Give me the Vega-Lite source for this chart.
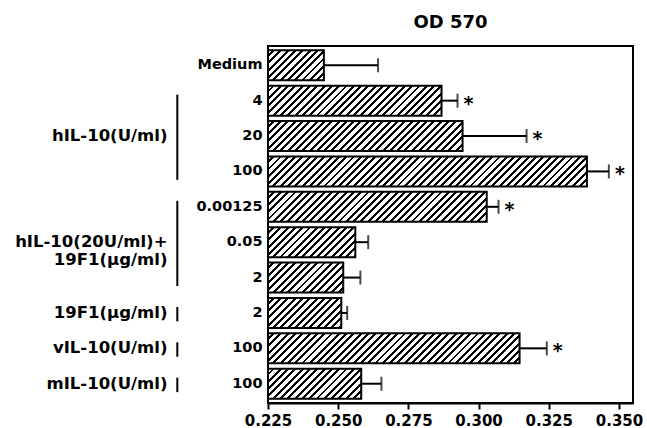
{
  "$schema": "https://vega.github.io/schema/vega-lite/v6.json",
  "width": 365,
  "height": 357,
  "autosize": {"type": "none"},
  "padding": {"left": 268, "top": 46, "right": 14, "bottom": 25},
  "background": "white",
  "config": {"view": {"stroke": "black", "strokeWidth": 2}, "font": "DejaVu Sans"},
  "title": {"text": "OD 570", "fontSize": 18, "fontWeight": "bold", "font": "DejaVu Sans", "color": "black", "offset": 14, "anchor": "middle"},
  "params": [
    {"name": "hatch", "value": [
      {"offset":0,"color":"#fff"},{"offset":0.012,"color":"#fff"},{"offset":0.012,"color":"#000"},{"offset":0.02,"color":"#000"},
      {"offset":0.02,"color":"#fff"},{"offset":0.032,"color":"#fff"},{"offset":0.032,"color":"#000"},{"offset":0.04,"color":"#000"},
      {"offset":0.04,"color":"#fff"},{"offset":0.052,"color":"#fff"},{"offset":0.052,"color":"#000"},{"offset":0.06,"color":"#000"},
      {"offset":0.06,"color":"#fff"},{"offset":0.072,"color":"#fff"},{"offset":0.072,"color":"#000"},{"offset":0.08,"color":"#000"},
      {"offset":0.08,"color":"#fff"},{"offset":0.092,"color":"#fff"},{"offset":0.092,"color":"#000"},{"offset":0.1,"color":"#000"},
      {"offset":0.1,"color":"#fff"},{"offset":0.112,"color":"#fff"},{"offset":0.112,"color":"#000"},{"offset":0.12,"color":"#000"},
      {"offset":0.12,"color":"#fff"},{"offset":0.132,"color":"#fff"},{"offset":0.132,"color":"#000"},{"offset":0.14,"color":"#000"},
      {"offset":0.14,"color":"#fff"},{"offset":0.152,"color":"#fff"},{"offset":0.152,"color":"#000"},{"offset":0.16,"color":"#000"},
      {"offset":0.16,"color":"#fff"},{"offset":0.172,"color":"#fff"},{"offset":0.172,"color":"#000"},{"offset":0.18,"color":"#000"},
      {"offset":0.18,"color":"#fff"},{"offset":0.192,"color":"#fff"},{"offset":0.192,"color":"#000"},{"offset":0.2,"color":"#000"},
      {"offset":0.2,"color":"#fff"},{"offset":0.212,"color":"#fff"},{"offset":0.212,"color":"#000"},{"offset":0.22,"color":"#000"},
      {"offset":0.22,"color":"#fff"},{"offset":0.232,"color":"#fff"},{"offset":0.232,"color":"#000"},{"offset":0.24,"color":"#000"},
      {"offset":0.24,"color":"#fff"},{"offset":0.252,"color":"#fff"},{"offset":0.252,"color":"#000"},{"offset":0.26,"color":"#000"},
      {"offset":0.26,"color":"#fff"},{"offset":0.272,"color":"#fff"},{"offset":0.272,"color":"#000"},{"offset":0.28,"color":"#000"},
      {"offset":0.28,"color":"#fff"},{"offset":0.292,"color":"#fff"},{"offset":0.292,"color":"#000"},{"offset":0.3,"color":"#000"},
      {"offset":0.3,"color":"#fff"},{"offset":0.312,"color":"#fff"},{"offset":0.312,"color":"#000"},{"offset":0.32,"color":"#000"},
      {"offset":0.32,"color":"#fff"},{"offset":0.332,"color":"#fff"},{"offset":0.332,"color":"#000"},{"offset":0.34,"color":"#000"},
      {"offset":0.34,"color":"#fff"},{"offset":0.352,"color":"#fff"},{"offset":0.352,"color":"#000"},{"offset":0.36,"color":"#000"},
      {"offset":0.36,"color":"#fff"},{"offset":0.372,"color":"#fff"},{"offset":0.372,"color":"#000"},{"offset":0.38,"color":"#000"},
      {"offset":0.38,"color":"#fff"},{"offset":0.392,"color":"#fff"},{"offset":0.392,"color":"#000"},{"offset":0.4,"color":"#000"},
      {"offset":0.4,"color":"#fff"},{"offset":0.412,"color":"#fff"},{"offset":0.412,"color":"#000"},{"offset":0.42,"color":"#000"},
      {"offset":0.42,"color":"#fff"},{"offset":0.432,"color":"#fff"},{"offset":0.432,"color":"#000"},{"offset":0.44,"color":"#000"},
      {"offset":0.44,"color":"#fff"},{"offset":0.452,"color":"#fff"},{"offset":0.452,"color":"#000"},{"offset":0.46,"color":"#000"},
      {"offset":0.46,"color":"#fff"},{"offset":0.472,"color":"#fff"},{"offset":0.472,"color":"#000"},{"offset":0.48,"color":"#000"},
      {"offset":0.48,"color":"#fff"},{"offset":0.492,"color":"#fff"},{"offset":0.492,"color":"#000"},{"offset":0.5,"color":"#000"},
      {"offset":0.5,"color":"#fff"},{"offset":0.512,"color":"#fff"},{"offset":0.512,"color":"#000"},{"offset":0.52,"color":"#000"},
      {"offset":0.52,"color":"#fff"},{"offset":0.532,"color":"#fff"},{"offset":0.532,"color":"#000"},{"offset":0.54,"color":"#000"},
      {"offset":0.54,"color":"#fff"},{"offset":0.552,"color":"#fff"},{"offset":0.552,"color":"#000"},{"offset":0.56,"color":"#000"},
      {"offset":0.56,"color":"#fff"},{"offset":0.572,"color":"#fff"},{"offset":0.572,"color":"#000"},{"offset":0.58,"color":"#000"},
      {"offset":0.58,"color":"#fff"},{"offset":0.592,"color":"#fff"},{"offset":0.592,"color":"#000"},{"offset":0.6,"color":"#000"},
      {"offset":0.6,"color":"#fff"},{"offset":0.612,"color":"#fff"},{"offset":0.612,"color":"#000"},{"offset":0.62,"color":"#000"},
      {"offset":0.62,"color":"#fff"},{"offset":0.632,"color":"#fff"},{"offset":0.632,"color":"#000"},{"offset":0.64,"color":"#000"},
      {"offset":0.64,"color":"#fff"},{"offset":0.652,"color":"#fff"},{"offset":0.652,"color":"#000"},{"offset":0.66,"color":"#000"},
      {"offset":0.66,"color":"#fff"},{"offset":0.672,"color":"#fff"},{"offset":0.672,"color":"#000"},{"offset":0.68,"color":"#000"},
      {"offset":0.68,"color":"#fff"},{"offset":0.692,"color":"#fff"},{"offset":0.692,"color":"#000"},{"offset":0.7,"color":"#000"},
      {"offset":0.7,"color":"#fff"},{"offset":0.712,"color":"#fff"},{"offset":0.712,"color":"#000"},{"offset":0.72,"color":"#000"},
      {"offset":0.72,"color":"#fff"},{"offset":0.732,"color":"#fff"},{"offset":0.732,"color":"#000"},{"offset":0.74,"color":"#000"},
      {"offset":0.74,"color":"#fff"},{"offset":0.752,"color":"#fff"},{"offset":0.752,"color":"#000"},{"offset":0.76,"color":"#000"},
      {"offset":0.76,"color":"#fff"},{"offset":0.772,"color":"#fff"},{"offset":0.772,"color":"#000"},{"offset":0.78,"color":"#000"},
      {"offset":0.78,"color":"#fff"},{"offset":0.792,"color":"#fff"},{"offset":0.792,"color":"#000"},{"offset":0.8,"color":"#000"},
      {"offset":0.8,"color":"#fff"},{"offset":0.812,"color":"#fff"},{"offset":0.812,"color":"#000"},{"offset":0.82,"color":"#000"},
      {"offset":0.82,"color":"#fff"},{"offset":0.832,"color":"#fff"},{"offset":0.832,"color":"#000"},{"offset":0.84,"color":"#000"},
      {"offset":0.84,"color":"#fff"},{"offset":0.852,"color":"#fff"},{"offset":0.852,"color":"#000"},{"offset":0.86,"color":"#000"},
      {"offset":0.86,"color":"#fff"},{"offset":0.872,"color":"#fff"},{"offset":0.872,"color":"#000"},{"offset":0.88,"color":"#000"},
      {"offset":0.88,"color":"#fff"},{"offset":0.892,"color":"#fff"},{"offset":0.892,"color":"#000"},{"offset":0.9,"color":"#000"},
      {"offset":0.9,"color":"#fff"},{"offset":0.912,"color":"#fff"},{"offset":0.912,"color":"#000"},{"offset":0.92,"color":"#000"},
      {"offset":0.92,"color":"#fff"},{"offset":0.932,"color":"#fff"},{"offset":0.932,"color":"#000"},{"offset":0.94,"color":"#000"},
      {"offset":0.94,"color":"#fff"},{"offset":0.952,"color":"#fff"},{"offset":0.952,"color":"#000"},{"offset":0.96,"color":"#000"},
      {"offset":0.96,"color":"#fff"},{"offset":0.972,"color":"#fff"},{"offset":0.972,"color":"#000"},{"offset":0.98,"color":"#000"},
      {"offset":0.98,"color":"#fff"},{"offset":0.992,"color":"#fff"},{"offset":0.992,"color":"#000"},{"offset":1,"color":"#000"}
    ]}
  ],
  "datasets": {
    "bars": [
      {"key": "01|Medium", "od": 0.2449, "err": 0.2642, "sig": ""},
      {"key": "02|4", "od": 0.2868, "err": 0.2925, "sig": "*"},
      {"key": "03|20", "od": 0.2943, "err": 0.3171, "sig": "*"},
      {"key": "04|100", "od": 0.3386, "err": 0.3464, "sig": "*"},
      {"key": "05|0.00125", "od": 0.3029, "err": 0.3071, "sig": "*"},
      {"key": "06|0.05", "od": 0.2561, "err": 0.2607, "sig": ""},
      {"key": "07|2", "od": 0.2518, "err": 0.2579, "sig": ""},
      {"key": "08|2", "od": 0.2511, "err": 0.2532, "sig": ""},
      {"key": "09|100", "od": 0.3146, "err": 0.3243, "sig": "*"},
      {"key": "10|100", "od": 0.2582, "err": 0.2654, "sig": ""}
    ],
    "groups": [
      {"name": "hIL-10(U/ml)", "first": "02|4", "mid": "03|20", "last": "04|100"},
      {"name": "hIL-10(20U/ml)+\n19F1(µg/ml)", "first": "05|0.00125", "mid": "06|0.05", "last": "07|2"},
      {"name": "19F1(µg/ml)", "first": "08|2", "mid": "08|2", "last": "08|2"},
      {"name": "vIL-10(U/ml)", "first": "09|100", "mid": "09|100", "last": "09|100"},
      {"name": "mIL-10(U/ml)", "first": "10|100", "mid": "10|100", "last": "10|100"}
    ]
  },
  "layer": [
    {
      "data": {"name": "bars"},
      "mark": {
        "type": "bar", "stroke": "black", "strokeWidth": 2,
        "fill": {"expr": "{gradient: 'linear', x1: 0, y1: 0, x2: 365*scale('x', datum.od)/(pow(scale('x', datum.od),2)+pow(bandwidth('y'),2)), y2: 365*bandwidth('y')/(pow(scale('x', datum.od),2)+pow(bandwidth('y'),2)), stops: hatch}"}
      },
      "encoding": {
        "y": {
          "field": "key", "type": "nominal",
          "scale": {"domain": ["01|Medium", "02|4", "03|20", "04|100", "05|0.00125", "06|0.05", "07|2", "08|2", "09|100", "10|100"], "paddingInner": 0.15, "paddingOuter": 0.12},
          "axis": {"title": null, "labelExpr": "split(datum.value, '|')[1]", "ticks": false, "domain": false, "labelFont": "DejaVu Sans", "labelFontWeight": "bold", "labelFontSize": 14.5, "labelPadding": 6, "labelColor": "black"}
        },
        "x": {
          "field": "od", "type": "quantitative",
          "scale": {"domain": [0.225, 0.355], "nice": false, "zero": false},
          "axis": {"title": null, "values": [0.225, 0.25, 0.275, 0.3, 0.325, 0.35], "format": ".3f", "grid": false, "domainColor": "black", "domainWidth": 2, "tickColor": "black", "tickWidth": 2, "tickSize": 6, "labelFont": "DejaVu Sans", "labelFontWeight": "bold", "labelFontSize": 15, "labelColor": "black", "labelPadding": 4, "labelFlush": false}
        },
        "x2": {"datum": 0.225}
      }
    },
    {
      "data": {"name": "bars"},
      "mark": {"type": "rule", "color": "black", "strokeWidth": 2},
      "encoding": {
        "y": {"field": "key", "type": "nominal"},
        "x": {"field": "od", "type": "quantitative"},
        "x2": {"field": "err"}
      }
    },
    {
      "data": {"name": "bars"},
      "mark": {"type": "tick", "color": "black", "thickness": 2, "size": 14},
      "encoding": {
        "y": {"field": "key", "type": "nominal"},
        "x": {"field": "err", "type": "quantitative"}
      }
    },
    {
      "data": {"name": "bars"},
      "mark": {"type": "text", "color": "black", "fontSize": 19, "fontWeight": "bold", "font": "DejaVu Sans", "align": "center", "baseline": "alphabetic", "dx": 11, "dy": 9},
      "encoding": {
        "y": {"field": "key", "type": "nominal"},
        "x": {"field": "err", "type": "quantitative"},
        "text": {"field": "sig"}
      }
    },
    {
      "data": {"name": "groups"},
      "mark": {"type": "text", "color": "black", "fontSize": 16.5, "fontWeight": "bold", "font": "DejaVu Sans", "align": "right", "baseline": "middle", "lineBreak": "\n", "lineHeight": 18},
      "encoding": {
        "y": {"field": "mid", "type": "nominal"},
        "x": {"datum": 0.1892},
        "text": {"field": "name"}
      }
    },
    {
      "data": {"name": "groups"},
      "mark": {"type": "rule", "color": "black", "strokeWidth": 2},
      "encoding": {
        "y": {"field": "first", "type": "nominal", "bandPosition": 0.3},
        "y2": {"field": "last", "bandPosition": 0.78},
        "x": {"datum": 0.1927}
      }
    }
  ]
}
